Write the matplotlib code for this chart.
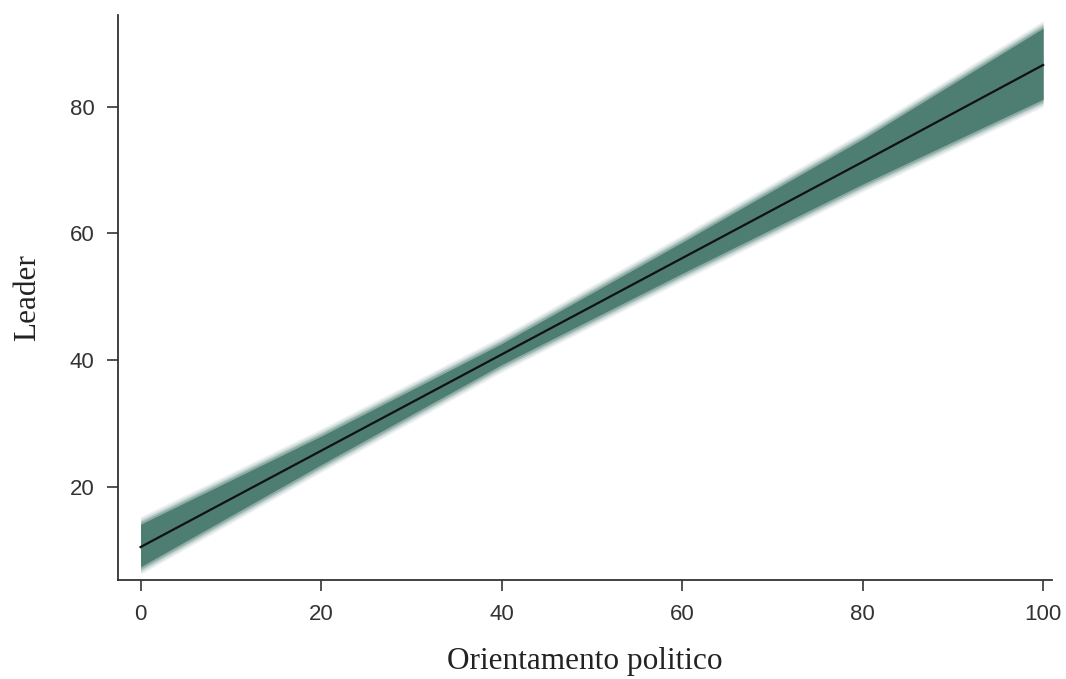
import numpy as np
import matplotlib.pyplot as plt

# fitted values and confidence band, read at a few points of orientation
orient = [0, 20, 40, 60, 80, 100]
fit = [10.5, 25.7, 40.9, 56.1, 71.3, 86.6]
lower = [7.2, 23.3, 39.1, 53.5, 67.6, 81.0]
upper = [14.3, 28.2, 42.8, 58.8, 75.1, 92.6]

band_color = "#4d7e71"

fig = plt.figure(figsize=(10.66, 6.79), dpi=100)
ax = fig.add_axes([0.1107, 0.1458, 0.8763, 0.8322])

# soft-edged band: a solid core with a few faint outer layers
lo = np.array(lower)
hi = np.array(upper)
for grow, a in [(1.0, 0.1), (0.7, 0.15), (0.4, 0.25), (0.15, 0.35)]:
    ax.fill_between(orient, lo - grow, hi + grow, color=band_color, alpha=a, lw=0)
ax.fill_between(orient, lo + 0.2, hi - 0.2, color=band_color, lw=0)

ax.plot(orient, fit, color="#111111", lw=1.6)

ax.set_xlim(-2.5, 101)
ax.set_ylim(5.3, 94.5)
ax.set_xticks([0, 20, 40, 60, 80, 100])
ax.set_yticks([20, 40, 60, 80])

for side in ["top", "right"]:
    ax.spines[side].set_visible(False)
for side in ["left", "bottom"]:
    ax.spines[side].set_color("#333333")
    ax.spines[side].set_linewidth(1.3)

ax.tick_params(length=8, width=1.2, color="#333333", pad=9,
               labelsize=16, labelcolor="#333333")
for lab in ax.get_xticklabels() + ax.get_yticklabels():
    lab.set_fontfamily("Liberation Sans")

ax.set_xlabel("Orientamento politico", fontfamily="Liberation Serif",
              fontsize=22.5, color="#222222", labelpad=16)
ax.set_ylabel("Leader", fontfamily="Liberation Serif",
              fontsize=22.5, color="#222222", labelpad=20)

fig.savefig("out.png", dpi=100)
